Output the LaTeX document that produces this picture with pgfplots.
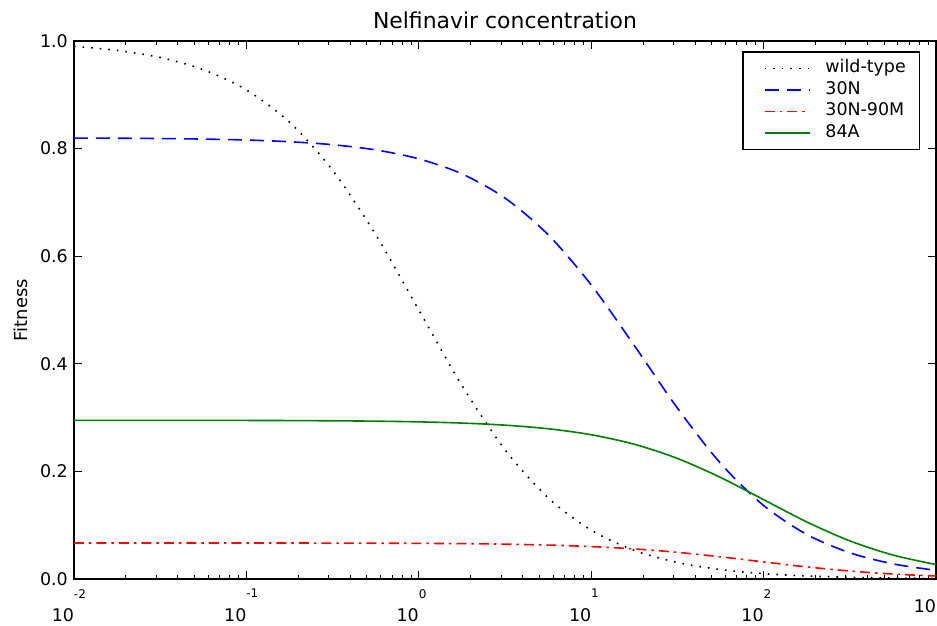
\documentclass[border=0pt]{standalone}
\usepackage{fontspec}
\setmainfont{DejaVu Sans}
\usepackage{pgfplots}
\pgfplotsset{compat=1.18}
\definecolor{mplred}{rgb}{1,0,0}
\definecolor{mplblue}{rgb}{0,0,1}
\definecolor{mplgreen}{rgb}{0,0.5,0}

% matplotlib-style tick label: exponent above-right, base below-left
\newcommand{\tl}[1]{\vbox{\offinterlineskip
  \hbox to 0pt{\fontsize{12}{12}\selectfont #1\hss}\vskip 10.5bp
  \hbox to 0pt{\hss 10}}}

\tikzset{
  wt/.style={draw=black, line width=1.6bp, dash pattern=on 1.6bp off 7bp},
  n30/.style={draw=mplblue, line width=1.6bp, dash pattern=on 14bp off 8bp},
  n90/.style={draw=mplred, line width=1.6bp, dash pattern=on 10bp off 5bp on 2.5bp off 5bp},
  a84/.style={draw=mplgreen, line width=1.6bp},
}

\begin{document}
\begin{tikzpicture}
\begin{semilogxaxis}[
  name=ax, scale only axis, width=862bp, height=538bp,
  xmin=0.01, xmax=1000, ymin=0, ymax=1,
  xtick={0.01,0.1,1,10,100,1000},
  xticklabels={\tl{-2},\tl{-1},\tl{0},\tl{1},\tl{2},\tl{}},
  minor xtick={0.02,0.03,0.04,0.05,0.06,0.07,0.08,0.09,
    0.2,0.3,0.4,0.5,0.6,0.7,0.8,0.9,2,3,4,5,6,7,8,9,
    20,30,40,50,60,70,80,90,200,300,400,500,600,700,800,900},
  ytick={0,0.2,0.4,0.6,0.8,1},
  yticklabels={0.0,0.2,0.4,0.6,0.8,1.0},
  tick align=inside, major tick length=8bp, minor tick length=4bp,
  every tick/.style={black, line width=0.8bp},
  axis line style={line width=2bp},
  tick label style={font=\fontsize{17.5}{20}\selectfont},
  xticklabel style={inner sep=0pt, anchor=north, yshift=-10bp},
  yticklabel style={inner sep=0pt, anchor=east, xshift=-6bp},
  title={Nelfinavir concentration},
  every axis title/.style={at={(0.5,1)}, anchor=base, yshift=12bp,
    font=\fontsize{22}{25}\selectfont},
  ylabel={Fitness},
  every axis y label/.style={at={(-0.0545,0.5)}, rotate=90, anchor=base,
    font=\fontsize{18}{20}\selectfont},
  legend cell align=left,
  legend style={at={(0.982,0.981)}, anchor=north east, draw=black,
    line width=1.5bp, inner xsep=13bp, inner ysep=7bp,
    row sep=2.5bp, column sep=14bp,
    font=\fontsize{17.5}{20}\selectfont,
    nodes={inner sep=1bp, text height=13bp, text depth=4bp}},
]
\addlegendimage{legend image code/.code={\path (0bp,0bp);
  \draw[wt] (8bp,0bp) -- (53bp,0bp);}}\addlegendentry{wild-type}
\addlegendimage{legend image code/.code={\path (0bp,0bp);
  \draw[n30] (8bp,0bp) -- (53bp,0bp);}}\addlegendentry{30N}
\addlegendimage{legend image code/.code={\path (0bp,0bp);
  \draw[n90] (8bp,0bp) -- (53bp,0bp);}}\addlegendentry{30N-90M}
\addlegendimage{legend image code/.code={\path (0bp,0bp);
  \draw[a84] (8bp,0bp) -- (53bp,0bp);}}\addlegendentry{84A}
\addplot[wt, smooth, forget plot] coordinates {
(0.01,0.9901) (0.017783,0.98253) (0.031623,0.96935) (0.056234,0.94676)
(0.1,0.90909) (0.17783,0.84901) (0.31623,0.75974) (0.56234,0.64005)
(1,0.5) (1.7783,0.35995) (3.1623,0.24026) (5.6234,0.15099)
(10,0.09091) (17.783,0.05324) (31.623,0.03065) (56.234,0.01747)
(100,0.0099) (177.83,0.00559) (316.23,0.00315) (562.34,0.00178) (1000,0.001)};
\addplot[n30, smooth, forget plot] coordinates {
(0.01,0.8196) (0.017783,0.81927) (0.031623,0.81871) (0.056234,0.81770)
(0.1,0.81592) (0.17783,0.81277) (0.31623,0.80724) (0.56234,0.79757)
(1,0.78095) (1.7783,0.75305) (3.1623,0.70805) (5.6234,0.64005)
(10,0.54667) (17.783,0.43405) (31.623,0.31768) (56.234,0.21513)
(100,0.13667) (177.83,0.08290) (316.23,0.04878) (562.34,0.02816) (1000,0.01608)};
\addplot[n90, smooth, forget plot] coordinates {
(0.01,0.066993) (0.017783,0.066987) (0.031623,0.066976) (0.056234,0.066958)
(0.1,0.06693) (0.17783,0.06687) (0.31623,0.06677) (0.56234,0.06658)
(1,0.06626) (1.7783,0.06570) (3.1623,0.06473) (5.6234,0.06306)
(10,0.06030) (17.783,0.05595) (31.623,0.04958) (56.234,0.04124)
(100,0.03174) (177.83,0.02251) (316.23,0.01484) (562.34,0.00924) (1000,0.00553)};
\addplot[a84, smooth, forget plot] coordinates {
(0.01,0.29497) (0.017783,0.29495) (0.031623,0.29491) (0.056234,0.29483)
(0.1,0.29471) (0.17783,0.29448) (0.31623,0.29407) (0.56234,0.29335)
(1,0.29208) (1.7783,0.28985) (3.1623,0.28596) (5.6234,0.27930)
(10,0.26818) (17.783,0.25048) (31.623,0.22412) (56.234,0.18882)
(100,0.1475) (177.83,0.10613) (316.23,0.07086) (562.34,0.04455) (1000,0.02682)};
\end{semilogxaxis}
\pgfresetboundingbox
\path ([shift={(-74bp,-47bp)}]ax.south west) rectangle ([shift={(1bp,41bp)}]ax.north east);
\end{tikzpicture}
\end{document}
